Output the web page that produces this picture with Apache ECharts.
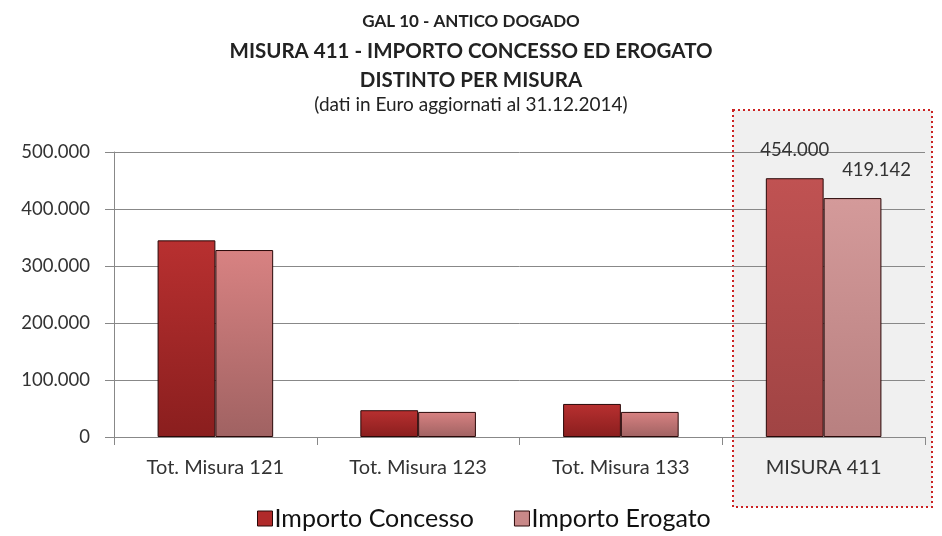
<!DOCTYPE html>
<html>
<head>
<meta charset="utf-8">
<script src="https://cdn.jsdelivr.net/npm/echarts@6/dist/echarts.min.js"></script>
<style>
html,body{margin:0;padding:0;background:#fff;}
#container{width:942px;height:536px;}
</style>
</head>
<body>
<div id="container"></div>
<script>
var categories = ['Tot. Misura 121', 'Tot. Misura 123', 'Tot. Misura 133', 'MISURA 411'];
var concesso = [345000, 47000, 58000, 454000];
var erogato = [328000, 44000, 44000, 419142];
var yTicks = [0, 100000, 200000, 300000, 400000, 500000];
var highlight = 'MISURA 411';

function fmt(v) {
    return String(v).replace(/\B(?=(\d{3})+(?!\d))/g, '.');
}

function grad(top, bottom) {
    return new echarts.graphic.LinearGradient(0, 0, 0, 1, [
        {offset: 0, color: top},
        {offset: 1, color: bottom}
    ]);
}

function buildData(values, normal, faded, labelOffset) {
    return values.map(function (v, i) {
        var hl = categories[i] === highlight;
        return {
            value: v,
            itemStyle: {color: hl ? grad(faded[0], faded[1]) : grad(normal[0], normal[1])},
            label: {show: hl, offset: labelOffset}
        };
    });
}

var dom = document.getElementById('container');
var myChart = echarts.init(dom);
var font = 'Lato, "Open Sans", sans-serif';

option = {
    backgroundColor: '#fff',
    animation: false,
    title: {
        left: 'center',
        top: 8,
        padding: 0,
        itemGap: 0,
        text: '{a|GAL 10 - ANTICO DOGADO}\n{b|MISURA 411 - IMPORTO CONCESSO ED EROGATO}\n{d|DISTINTO PER MISURA}\n{c|(dati in Euro aggiornati al 31.12.2014)}',
        textStyle: {
            rich: {
                a: {fontFamily: font, fontSize: 17, fontWeight: 'bold', color: '#222', lineHeight: 28},
                b: {fontFamily: font, fontSize: 20.5, fontWeight: 'bold', color: '#222', lineHeight: 30},
                d: {fontFamily: font, fontSize: 20.5, fontWeight: 'bold', color: '#222', lineHeight: 28},
                c: {fontFamily: font, fontSize: 19, fontWeight: 'normal', color: '#222', lineHeight: 22}
            }
        }
    },
    graphic: [{
        type: 'rect',
        z: -10,
        shape: {x: 733, y: 110, width: 199, height: 397},
        style: {fill: '#f0f0f0', stroke: '#cc2222', lineWidth: 2, lineDash: [2, 3]}
    }],
    legend: {
        bottom: 0,
        left: 252,
        itemWidth: 15,
        itemHeight: 15,
        itemGap: 40,
        icon: 'rect',
        textStyle: {fontFamily: font, fontSize: 25, color: '#111', padding: [0, 0, 0, -3]},
        data: [
            {name: 'Importo Concesso', itemStyle: {color: '#b02a2a', borderColor: '#2a0808', borderWidth: 1}},
            {name: 'Importo Erogato', itemStyle: {color: '#c98888', borderColor: '#2a0808', borderWidth: 1}}
        ]
    },
    grid: {left: 114, right: 17, top: 152, bottom: 99},
    xAxis: {
        type: 'category',
        data: categories,
        axisLine: {lineStyle: {color: '#888'}},
        axisTick: {show: true, length: 8, lineStyle: {color: '#888'}},
        axisLabel: {fontFamily: font, fontSize: 20, color: '#333', margin: 21}
    },
    yAxis: {
        type: 'value',
        min: yTicks[0],
        max: yTicks[yTicks.length - 1],
        interval: yTicks[1] - yTicks[0],
        axisLine: {show: true, lineStyle: {color: '#888'}},
        axisTick: {show: true, length: 9, lineStyle: {color: '#888'}},
        splitLine: {lineStyle: {color: '#888', width: 1}},
        axisLabel: {fontFamily: font, fontSize: 18.5, color: '#333', margin: 24, formatter: fmt}
    },
    series: [{
        name: 'Importo Concesso',
        type: 'bar',
        barGap: '0%',
        barCategoryGap: '43%',
        itemStyle: {borderColor: '#2a0808', borderWidth: 1},
        label: {position: 'top', fontFamily: font, fontSize: 18.5, color: '#333', formatter: function (p) { return fmt(p.value); }},
        data: buildData(concesso, ['#b83030', '#8a1e1e'], ['#c05252', '#a04444'], [0, -14])
    }, {
        name: 'Importo Erogato',
        type: 'bar',
        itemStyle: {borderColor: '#2a0808', borderWidth: 1},
        label: {position: 'top', fontFamily: font, fontSize: 18.5, color: '#333', formatter: function (p) { return fmt(p.value); }},
        data: buildData(erogato, ['#d88282', '#a06262'], ['#d49a9a', '#b88080'], [24, -14])
    }]
};

if (option && typeof option === "object") {
    myChart.setOption(option, true);
}
</script>
</body>
</html>
